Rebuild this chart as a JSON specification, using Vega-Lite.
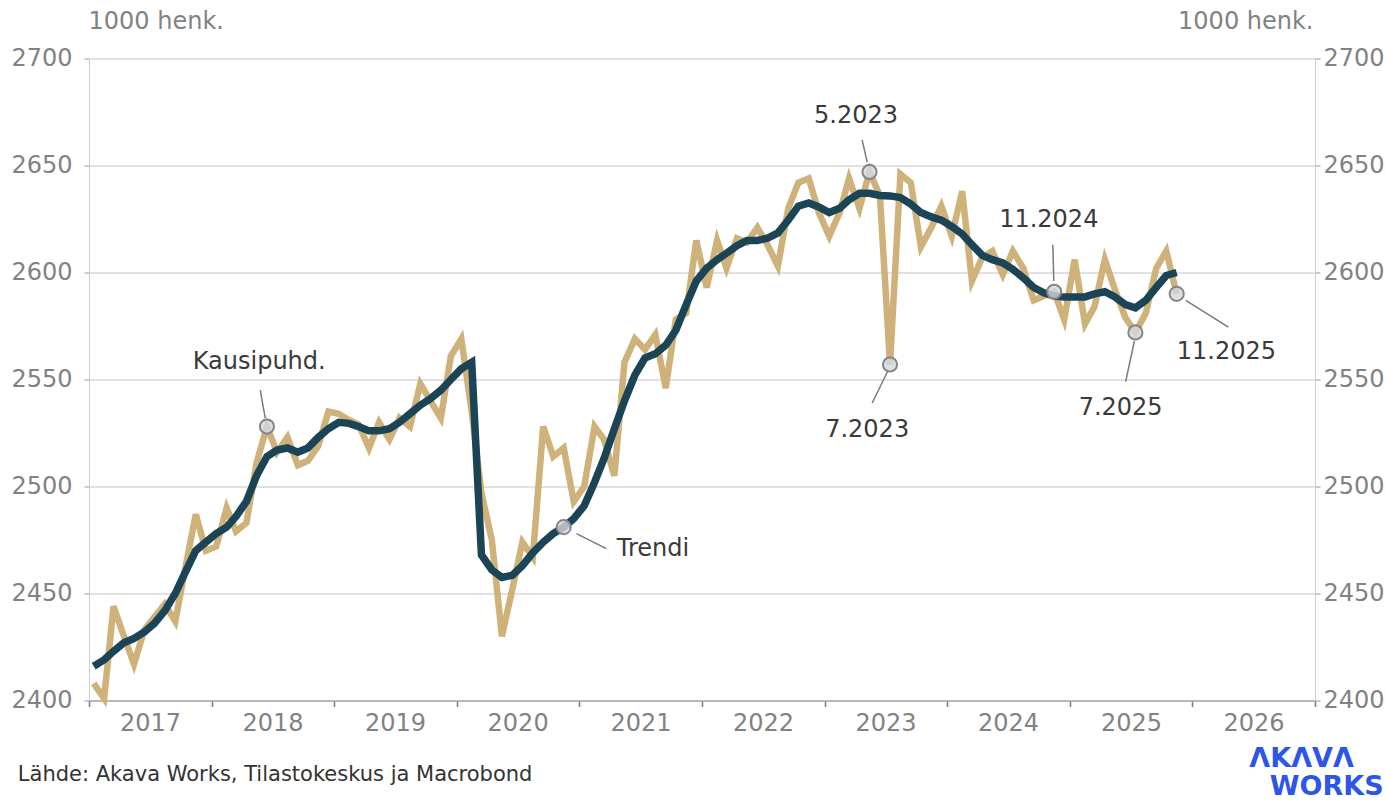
{
"$schema": "https://vega.github.io/schema/vega-lite/v6.json",
"width": 1226,
"height": 642,
"autosize": {"type": "none"},
"padding": {"left": 89, "top": 58.5, "right": 74, "bottom": 102.5},
"background": "white",
"config": {"view": {"stroke": null}, "font": "DejaVu Sans"},
"datasets": {
"series": [
{"date":"2017-01-15","sa":2408,"trend":2416},
{"date":"2017-02-15","sa":2401,"trend":2419},
{"date":"2017-03-15","sa":2444,"trend":2423},
{"date":"2017-04-15","sa":2430,"trend":2427},
{"date":"2017-05-15","sa":2417,"trend":2429},
{"date":"2017-06-15","sa":2433,"trend":2432},
{"date":"2017-07-15","sa":2439,"trend":2436},
{"date":"2017-08-15","sa":2445,"trend":2442},
{"date":"2017-09-15","sa":2437,"trend":2450},
{"date":"2017-10-15","sa":2462,"trend":2460},
{"date":"2017-11-15","sa":2487,"trend":2470},
{"date":"2017-12-15","sa":2470,"trend":2474},
{"date":"2018-01-15","sa":2472,"trend":2478},
{"date":"2018-02-15","sa":2490,"trend":2481},
{"date":"2018-03-15","sa":2479,"trend":2486},
{"date":"2018-04-15","sa":2483,"trend":2493},
{"date":"2018-05-15","sa":2511,"trend":2505},
{"date":"2018-06-15","sa":2528,"trend":2514},
{"date":"2018-07-15","sa":2516,"trend":2517},
{"date":"2018-08-15","sa":2523,"trend":2518},
{"date":"2018-09-15","sa":2510,"trend":2516},
{"date":"2018-10-15","sa":2512,"trend":2518},
{"date":"2018-11-15","sa":2519,"trend":2523},
{"date":"2018-12-15","sa":2535,"trend":2527},
{"date":"2019-01-15","sa":2534,"trend":2530},
{"date":"2019-02-15","sa":2531,"trend":2529.5},
{"date":"2019-03-15","sa":2529,"trend":2528},
{"date":"2019-04-15","sa":2518,"trend":2526},
{"date":"2019-05-15","sa":2530,"trend":2526},
{"date":"2019-06-15","sa":2522,"trend":2527},
{"date":"2019-07-15","sa":2532,"trend":2530},
{"date":"2019-08-15","sa":2528,"trend":2534},
{"date":"2019-09-15","sa":2548,"trend":2538},
{"date":"2019-10-15","sa":2540,"trend":2541},
{"date":"2019-11-15","sa":2532,"trend":2545},
{"date":"2019-12-15","sa":2561,"trend":2550},
{"date":"2020-01-15","sa":2569,"trend":2555},
{"date":"2020-02-15","sa":2535,"trend":2558},
{"date":"2020-03-15","sa":2497,"trend":2468},
{"date":"2020-04-15","sa":2475,"trend":2461},
{"date":"2020-05-15","sa":2430,"trend":2457.5},
{"date":"2020-06-15","sa":2452,"trend":2458.5},
{"date":"2020-07-15","sa":2474,"trend":2463},
{"date":"2020-08-15","sa":2467,"trend":2469},
{"date":"2020-09-15","sa":2528,"trend":2474},
{"date":"2020-10-15","sa":2514,"trend":2478},
{"date":"2020-11-15","sa":2518,"trend":2481},
{"date":"2020-12-15","sa":2493,"trend":2485},
{"date":"2021-01-15","sa":2500,"trend":2491},
{"date":"2021-02-15","sa":2528,"trend":2502},
{"date":"2021-03-15","sa":2522,"trend":2513},
{"date":"2021-04-15","sa":2505,"trend":2527},
{"date":"2021-05-15","sa":2558,"trend":2540},
{"date":"2021-06-15","sa":2569,"trend":2552},
{"date":"2021-07-15","sa":2564,"trend":2560},
{"date":"2021-08-15","sa":2571,"trend":2562},
{"date":"2021-09-15","sa":2546,"trend":2566},
{"date":"2021-10-15","sa":2578,"trend":2573},
{"date":"2021-11-15","sa":2581,"trend":2585},
{"date":"2021-12-15","sa":2615,"trend":2596},
{"date":"2022-01-15","sa":2593,"trend":2602},
{"date":"2022-02-15","sa":2615,"trend":2606},
{"date":"2022-03-15","sa":2602,"trend":2609},
{"date":"2022-04-15","sa":2616,"trend":2612.5},
{"date":"2022-05-15","sa":2614,"trend":2615},
{"date":"2022-06-15","sa":2621,"trend":2615},
{"date":"2022-07-15","sa":2613,"trend":2616},
{"date":"2022-08-15","sa":2603,"trend":2618.5},
{"date":"2022-09-15","sa":2630,"trend":2624.5},
{"date":"2022-10-15","sa":2642,"trend":2631},
{"date":"2022-11-15","sa":2644,"trend":2632.5},
{"date":"2022-12-15","sa":2628,"trend":2630.6},
{"date":"2023-01-15","sa":2617,"trend":2628},
{"date":"2023-02-15","sa":2628,"trend":2630},
{"date":"2023-03-15","sa":2644,"trend":2634},
{"date":"2023-04-15","sa":2630,"trend":2637},
{"date":"2023-05-15","sa":2647,"trend":2637},
{"date":"2023-06-15","sa":2636,"trend":2636},
{"date":"2023-07-15","sa":2557,"trend":2635.8},
{"date":"2023-08-15","sa":2646,"trend":2635},
{"date":"2023-09-15","sa":2642,"trend":2632},
{"date":"2023-10-15","sa":2612,"trend":2628},
{"date":"2023-11-15","sa":2621,"trend":2626},
{"date":"2023-12-15","sa":2631,"trend":2624.5},
{"date":"2024-01-15","sa":2617,"trend":2621.5},
{"date":"2024-02-15","sa":2638,"trend":2618},
{"date":"2024-03-15","sa":2596,"trend":2613},
{"date":"2024-04-15","sa":2607,"trend":2608},
{"date":"2024-05-15","sa":2610,"trend":2606},
{"date":"2024-06-15","sa":2599,"trend":2604.5},
{"date":"2024-07-15","sa":2610,"trend":2601.5},
{"date":"2024-08-15","sa":2602,"trend":2597.5},
{"date":"2024-09-15","sa":2587,"trend":2593},
{"date":"2024-10-15","sa":2589,"trend":2590.5},
{"date":"2024-11-15","sa":2591,"trend":2589},
{"date":"2024-12-15","sa":2578,"trend":2588.5},
{"date":"2025-01-15","sa":2606,"trend":2588.5},
{"date":"2025-02-15","sa":2576,"trend":2588.6},
{"date":"2025-03-15","sa":2584,"trend":2590},
{"date":"2025-04-15","sa":2606,"trend":2591},
{"date":"2025-05-15","sa":2592,"trend":2588.6},
{"date":"2025-06-15","sa":2579,"trend":2585},
{"date":"2025-07-15","sa":2572,"trend":2583.5},
{"date":"2025-08-15","sa":2581,"trend":2587},
{"date":"2025-09-15","sa":2602,"trend":2593},
{"date":"2025-10-15","sa":2610,"trend":2598.6},
{"date":"2025-11-15","sa":2590,"trend":2600}
],
"ann": [
{"label":"Kausipuhd.","date":"2018-06-15","value":2528,"d1":"2018-06-10","v1":2532,"d2":"2018-05-26","v2":2545,"td":"2018-05-23","tv":2558},
{"label":"Trendi","date":"2020-11-15","value":2481,"d1":"2020-12-23","v1":2478,"d2":"2021-03-22","v2":2471,"td":"2021-08-08","tv":2471},
{"label":"5.2023","date":"2023-05-15","value":2647,"d1":"2023-05-08","v1":2651.6,"d2":"2023-04-23","v2":2662,"td":"2023-04-05","tv":2673},
{"label":"7.2023","date":"2023-07-15","value":2557,"d1":"2023-07-07","v1":2553.5,"d2":"2023-05-23","v2":2539,"td":"2023-05-08","tv":2526.3},
{"label":"11.2024","date":"2024-11-15","value":2591,"d1":"2024-11-14","v1":2596,"d2":"2024-11-11","v2":2613,"td":"2024-10-30","tv":2624.5},
{"label":"7.2025","date":"2025-07-15","value":2572,"d1":"2025-07-12","v1":2568,"d2":"2025-06-16","v2":2549,"td":"2025-06-01","tv":2536.7},
{"label":"11.2025","date":"2025-11-15","value":2590,"d1":"2025-12-12","v1":2587,"d2":"2026-04-18","v2":2574.5,"td":"2026-04-12","tv":2563}
]
},
"resolve": {"axis": {"y": "independent"}},
"layer": [
{
"data": {"name": "series"},
"mark": {"type": "line", "color": "#cfb27a", "strokeWidth": 6.5},
"encoding": {
"x": {"field": "date", "type": "temporal", "title": null,
"scale": {"type": "utc", "domain": [{"year": 2017, "month": 1, "date": 1, "utc": true}, {"year": 2027, "month": 1, "date": 1, "utc": true}]},
"axis": {"values": [{"year":2017,"month":1,"date":1,"utc":true},{"year":2018,"month":1,"date":1,"utc":true},{"year":2019,"month":1,"date":1,"utc":true},{"year":2020,"month":1,"date":1,"utc":true},{"year":2021,"month":1,"date":1,"utc":true},{"year":2022,"month":1,"date":1,"utc":true},{"year":2023,"month":1,"date":1,"utc":true},{"year":2024,"month":1,"date":1,"utc":true},{"year":2025,"month":1,"date":1,"utc":true},{"year":2026,"month":1,"date":1,"utc":true},{"year":2027,"month":1,"date":1,"utc":true}],
"format": "%Y", "labelExpr": "datum.label == '2027' ? '' : datum.label", "labelOffset": 61, "labelFontSize": 24, "labelColor": "#7f8385", "labelPadding": 5, "tickSize": 6, "tickColor": "#7a7a7a", "tickWidth": 1.5, "domainColor": "#aaaaaa", "domainWidth": 1.5, "grid": false, "labelFlush": false, "labelOverlap": false}},
"y": {"field": "sa", "type": "quantitative", "scale": {"domain": [2400, 2700], "nice": false, "zero": false},
"axis": {"orient": "left", "values": [2400, 2450, 2500, 2550, 2600, 2650, 2700], "format": "d", "title": "1000 henk.", "titleAngle": 0, "titleAlign": "left", "titleBaseline": "middle", "titleX": -1, "titleY": -37, "titleFontSize": 24, "titleFontWeight": "normal", "titleColor": "#7f8385", "labelFontSize": 24, "labelColor": "#7f8385", "labelPadding": 12, "tickSize": 5, "tickColor": "#999999", "domainColor": "#cccccc", "grid": true, "gridColor": "#c4c4c4", "gridWidth": 1}}
}
},
{
"data": {"name": "series"},
"mark": {"type": "line", "color": "#1b4457", "strokeWidth": 7.5},
"encoding": {
"x": {"field": "date", "type": "temporal", "title": null},
"y": {"field": "trend", "type": "quantitative", "scale": {"domain": [2400, 2700], "nice": false, "zero": false},
"axis": {"orient": "right", "values": [2400, 2450, 2500, 2550, 2600, 2650, 2700], "format": "d", "title": "1000 henk.", "titleAngle": 0, "titleAlign": "right", "titleBaseline": "middle", "titleX": -2, "titleY": -37, "titleFontSize": 24, "titleFontWeight": "normal", "titleColor": "#7f8385", "labelFontSize": 24, "labelColor": "#7f8385", "labelPadding": 3, "tickSize": 5, "tickColor": "#999999", "domainColor": "#cccccc", "grid": false}}
}
},
{
"data": {"name": "ann"},
"mark": {"type": "rule", "color": "#7a7a7a", "strokeWidth": 1.5},
"encoding": {
"x": {"field": "d1", "type": "temporal", "title": null},
"x2": {"field": "d2"},
"y": {"field": "v1", "type": "quantitative", "scale": {"domain": [2400, 2700], "nice": false, "zero": false}, "axis": null},
"y2": {"field": "v2"}
}
},
{
"data": {"name": "ann"},
"mark": {"type": "point", "shape": "circle", "filled": true, "size": 200, "fill": "#d3d7e0", "fillOpacity": 0.8, "stroke": "#858585", "strokeWidth": 2, "opacity": 1},
"encoding": {
"x": {"field": "date", "type": "temporal", "title": null},
"y": {"field": "value", "type": "quantitative", "scale": {"domain": [2400, 2700], "nice": false, "zero": false}, "axis": null}
}
},
{
"data": {"name": "ann"},
"mark": {"type": "text", "fontSize": 24, "color": "#3a3a3a", "align": "center", "baseline": "middle"},
"encoding": {
"x": {"field": "td", "type": "temporal", "title": null},
"y": {"field": "tv", "type": "quantitative", "scale": {"domain": [2400, 2700], "nice": false, "zero": false}, "axis": null},
"text": {"field": "label"}
}
},
{
"data": {"values": [{}]},
"mark": {"type": "text", "text": "Lähde: Akava Works, Tilastokeskus ja Macrobond", "fontSize": 21, "color": "#333333", "align": "left", "baseline": "middle"},
"encoding": {
"x": {"datum": {"year": 2016, "month": 6, "date": 3, "utc": true}, "type": "temporal", "title": null},
"y": {"datum": 2365, "type": "quantitative", "scale": {"domain": [2400, 2700], "nice": false, "zero": false}, "axis": null}
}
},
{
"data": {"values": [{}]},
"mark": {"type": "text", "text": "ΛKΛVΛ", "fontSize": 27, "fontWeight": "bold", "color": "#2d55e8", "align": "center", "baseline": "middle"},
"encoding": {
"x": {"datum": {"year": 2026, "month": 11, "date": 22, "utc": true}, "type": "temporal", "title": null},
"y": {"datum": 2372.8, "type": "quantitative", "scale": {"domain": [2400, 2700], "nice": false, "zero": false}, "axis": null}
}
},
{
"data": {"values": [{}]},
"mark": {"type": "text", "text": "WORKS", "fontSize": 27, "fontWeight": "bold", "color": "#2d55e8", "align": "center", "baseline": "middle"},
"encoding": {
"x": {"datum": {"year": 2027, "month": 2, "date": 5, "utc": true}, "type": "temporal", "title": null},
"y": {"datum": 2359.6, "type": "quantitative", "scale": {"domain": [2400, 2700], "nice": false, "zero": false}, "axis": null}
}
}
]
}
